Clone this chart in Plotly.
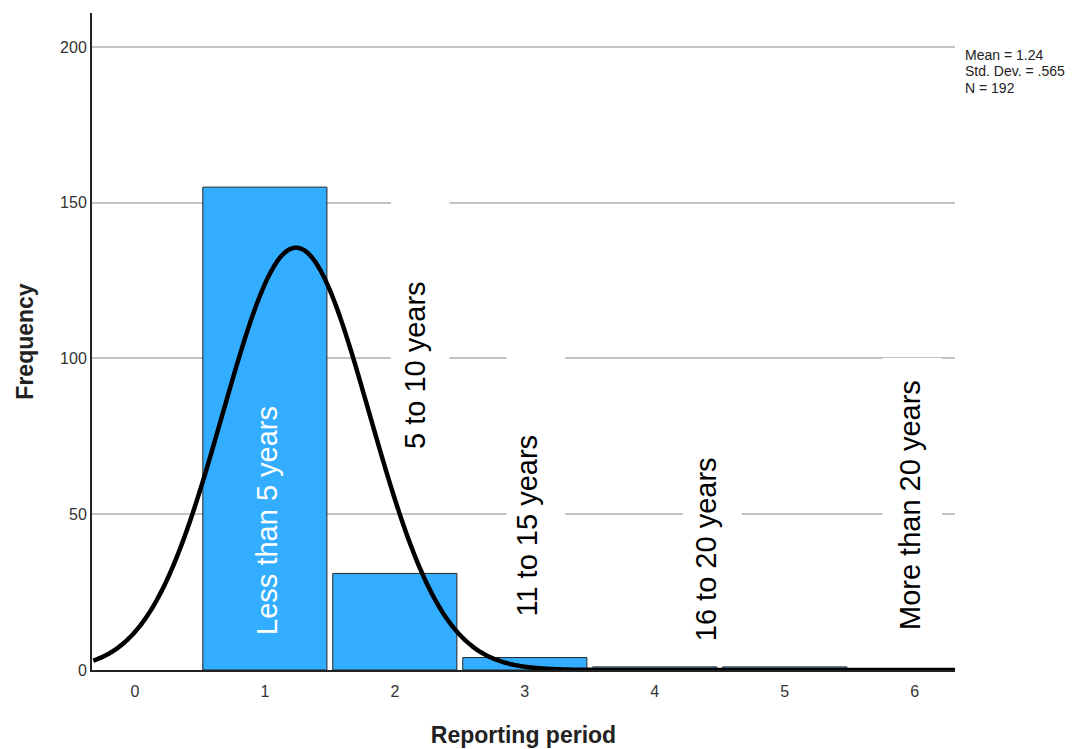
import numpy as np
import plotly.graph_objects as go

# ---- data ----
categories = [1, 2, 3, 4, 5, 6]
frequencies = [155, 31, 4, 1, 1, 0]
labels = ["Less than 5 years", "5 to 10 years", "11 to 15 years", "16 to 20 years", "More than 20 years"]
label_x = [1.02, 2.15, 3.02, 4.40, 5.96]
label_y = [48, 98, 46.5, 38.7, 52.8]
stats_text = ["Mean = 1.24", "Std. Dev. = .565", "N = 192"]
MEAN, SD, N = 1.24, 0.565, 192
x_ticks = [0, 1, 2, 3, 4, 5, 6]
y_ticks = [0, 50, 100, 150, 200]

FONT = "Liberation Sans, Arial, sans-serif"

fig = go.Figure()

fig.add_trace(go.Bar(
    x=categories, y=frequencies, width=0.955,
    marker=dict(color="#33adff", line=dict(color="#262626", width=1)),
    showlegend=False, hoverinfo="skip",
))

# fitted normal curve from stated mean / sd / N (bin width 1)
xs = np.linspace(-0.32, 6.32, 600)
ys = N * np.exp(-0.5 * ((xs - MEAN) / SD) ** 2) / (SD * np.sqrt(2 * np.pi))
fig.add_trace(go.Scatter(x=xs, y=ys, mode="lines",
                         line=dict(color="black", width=4.5, shape="spline"),
                         showlegend=False, hoverinfo="skip"))

# white boxes behind the labels (cover gridlines)
boxes = [(1.97, 2.42, 64.6, 154), (2.86, 3.31, 13.4, 103),
         (4.215, 4.67, 1.3, 71), (5.75, 6.21, 3.8, 100.16)]
for x0, x1, y0, y1 in boxes:
    fig.add_shape(type="rect", x0=x0, x1=x1, y0=y0, y1=y1, xref="x", yref="y",
                  fillcolor="white", line=dict(width=0), layer="above")

for i, (t, lx, ly) in enumerate(zip(labels, label_x, label_y)):
    fig.add_annotation(x=lx, y=ly, text=t, textangle=-90, showarrow=False,
                       font=dict(family=FONT, size=29,
                                 color="white" if i == 0 else "black"))

for i, t in enumerate(stats_text):
    py = 55 + i * 16.5
    fig.add_annotation(xref="paper", yref="paper", x=(963 - 92) / 863,
                       y=(672 - py) / 659, text=t, showarrow=False,
                       xanchor="left", yanchor="middle",
                       font=dict(family=FONT, size=14, color="#222222"))

fig.update_layout(
    width=1078, height=741,
    margin=dict(l=84, r=131, t=5, b=77),
    paper_bgcolor="white", plot_bgcolor="white",
    font=dict(family=FONT),
    xaxis=dict(range=[-0.33, 6.31], tickvals=x_ticks, ticktext=[str(v) for v in x_ticks],
               showgrid=False, zeroline=False, showline=True, linecolor="#222222",
               linewidth=1.5, ticks="", tickfont=dict(size=16, color="#333333"),
               ticklabelstandoff=6,
               title=dict(text="<b>Reporting period</b>", font=dict(size=23, color="#222222"),
                          standoff=28)),
    yaxis=dict(range=[0, 210.9], tickvals=y_ticks, ticktext=[str(v) for v in y_ticks],
               showgrid=True, gridcolor="#c4c4c4", gridwidth=2, zeroline=False,
               showline=True, linecolor="#222222", linewidth=2, ticks="",
               tickfont=dict(size=16, color="#333333"),
               title=dict(text="<b>Frequency</b>", font=dict(size=23, color="#222222"),
                          standoff=20)),
    bargap=0.04,
)

fig.write_html("out.html")
